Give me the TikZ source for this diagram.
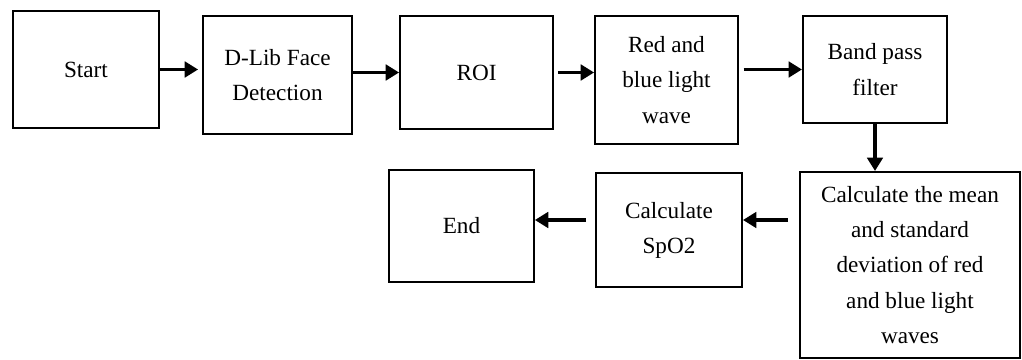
\documentclass[tikz,border=0pt]{standalone}
\usepackage{fontspec}
\setmainfont{Liberation Serif}
\usetikzlibrary{arrows.meta,calc}

\begin{document}
\begin{tikzpicture}[x=0.025cm,y=-0.025cm,
  stage/.style={draw,line width=1.4pt,align=center,inner sep=0pt,
    font=\fontsize{16.5}{25}\selectfont},
  flow/.style={line width=2.8pt,-{Triangle[length=9.5pt 0 1,width=11pt 0 1]}}]
\useasboundingbox (0,0) rectangle (1022,360);

% top row
\node[stage,minimum width=3.65cm,minimum height=2.92cm] (start) at (86,69.5) {Start};
\node[stage,minimum width=3.72cm,minimum height=2.95cm] (dlib) at (277.5,75) {D-Lib Face\\Detection};
\node[stage,minimum width=3.82cm,minimum height=2.82cm] (roi) at (476.5,72.5) {ROI};
\node[stage,minimum width=3.57cm,minimum height=3.2cm] (wave) at (666.5,80) {Red and\\blue light\\wave};
\node[stage,minimum width=3.6cm,minimum height=2.67cm] (bpf) at (875,69.5) {Band pass\\filter};

% bottom row
\node[stage,minimum width=5.5cm,minimum height=4.65cm] (stats) at (910,265)
  {Calculate the mean\\and standard\\deviation of red\\and blue light\\waves};
\node[stage,minimum width=3.65cm,minimum height=2.85cm] (spo2) at (669,230) {Calculate\\SpO2};
\node[stage,minimum width=3.62cm,minimum height=2.8cm] (end) at (461.5,226) {End};

\draw[flow,shorten >=0.1cm] (start.east) -- (start.east -| dlib.west);
\draw[flow] (dlib.east |- roi) -- (roi.west);
\draw[flow,shorten <=0.1cm] (roi.east) -- (roi.east -| wave.west);
\draw[flow,shorten <=0.12cm] (wave.east |- bpf) -- (bpf.west);
\draw[flow] (bpf.south) -- (bpf.south |- stats.north);
\draw[flow,shorten <=0.27cm] ($(spo2.east -| stats.west)+(0,-10)$) -- ($(spo2.east)+(0,-10)$);
\draw[flow,shorten <=0.22cm] ($(spo2.west)+(0,-10)$) -- ($(spo2.west -| end.east)+(0,-10)$);

\end{tikzpicture}
\end{document}
